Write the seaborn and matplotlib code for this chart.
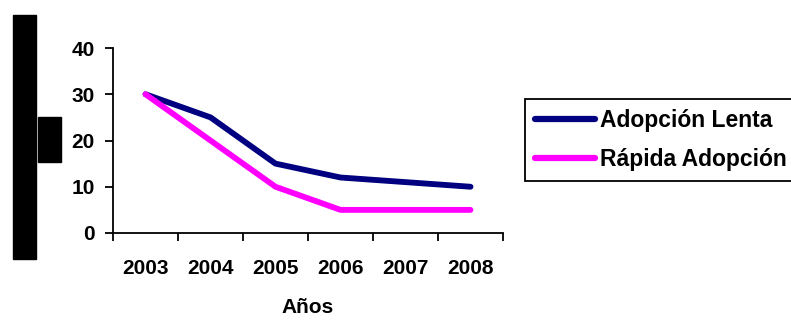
import numpy as np
import pandas as pd
import seaborn as sns
import matplotlib.pyplot as plt
from matplotlib.patches import Rectangle

years = ["2003", "2004", "2005", "2006", "2007", "2008"]
adopcion_lenta = [30, 25, 15, 12, 11, 10]
rapida_adopcion = [30, 20, 10, 5, 5, 5]
series_names = ["Adopción Lenta", "Rápida Adopción"]
series_colors = ["#000080", "#FF00FF"]


def build_frame():
    df = pd.DataFrame({
        "Años": years * 2,
        "valor": adopcion_lenta + rapida_adopcion,
        "serie": [series_names[0]] * len(years) + [series_names[1]] * len(years),
    })
    return df


def make_chart(df):
    sns.set_style("ticks")
    plt.rcParams["font.family"] = ["Liberation Sans", "DejaVu Sans"]
    plt.rcParams["font.weight"] = "bold"
    for key in ["text.color", "axes.labelcolor", "xtick.color", "ytick.color", "axes.edgecolor"]:
        plt.rcParams[key] = "black"

    fig = plt.figure(figsize=(7.91, 3.2), dpi=100)
    ax = fig.add_axes([113 / 791, 1 - 233 / 320, 390 / 791, 185 / 320])

    sns.lineplot(data=df, x="Años", y="valor", hue="serie", palette=series_colors,
                 linewidth=4.2, ax=ax, sort=False, legend=True)
    for line in ax.lines:
        line.set_solid_capstyle("round")
        line.set_solid_joinstyle("round")

    ax.set_ylim(0, 40)
    ax.set_yticks([0, 10, 20, 30, 40])
    ax.set_xlim(-0.5, len(years) - 0.5)
    ax.set_xticks(np.arange(-0.5, len(years)), labels=[""] * (len(years) + 1))
    ax.set_xticks(np.arange(len(years)), labels=years, minor=True)
    ax.tick_params(axis="x", which="minor", length=0, pad=19, labelsize=15)
    ax.tick_params(axis="x", which="major", length=6, width=1.3, direction="out")
    ax.tick_params(axis="y", length=6, width=1.3, pad=7, labelsize=15)
    for lbl in ax.get_xticklabels(minor=True) + ax.get_yticklabels():
        lbl.set_fontweight("bold")

    ax.spines["top"].set_visible(False)
    ax.spines["right"].set_visible(False)
    ax.spines["left"].set_linewidth(1.3)
    ax.spines["bottom"].set_linewidth(1.3)
    ax.set_ylabel("")
    ax.set_xlabel("Años", fontsize=15, fontweight="bold", labelpad=14)

    handles, labels = ax.get_legend_handles_labels()
    ax.get_legend().remove()
    leg = fig.legend(handles, labels, loc="upper left",
                     bbox_to_anchor=(525 / 791, 1 - 99 / 320), borderaxespad=0,
                     fancybox=False, frameon=True, edgecolor="black", framealpha=1,
                     prop={"size": 16.5, "weight": "bold"},
                     handlelength=2.65, handletextpad=0.22, labelspacing=0.72,
                     borderpad=0.42)
    leg.get_frame().set_linewidth(1.3)
    for h in leg.get_lines():
        h.set_linewidth(4.5)
        h.set_solid_capstyle("round")

    # redacted blocks on the left
    fig.patches.append(Rectangle((13 / 791, 1 - 259 / 320), 23 / 791, 244 / 320,
                                 transform=fig.transFigure, color="black", figure=fig))
    fig.patches.append(Rectangle((38 / 791, 1 - 162 / 320), 23 / 791, 45 / 320,
                                 transform=fig.transFigure, color="black", figure=fig))

    fig.savefig("out.png", dpi=100)


df = build_frame()
make_chart(df)
